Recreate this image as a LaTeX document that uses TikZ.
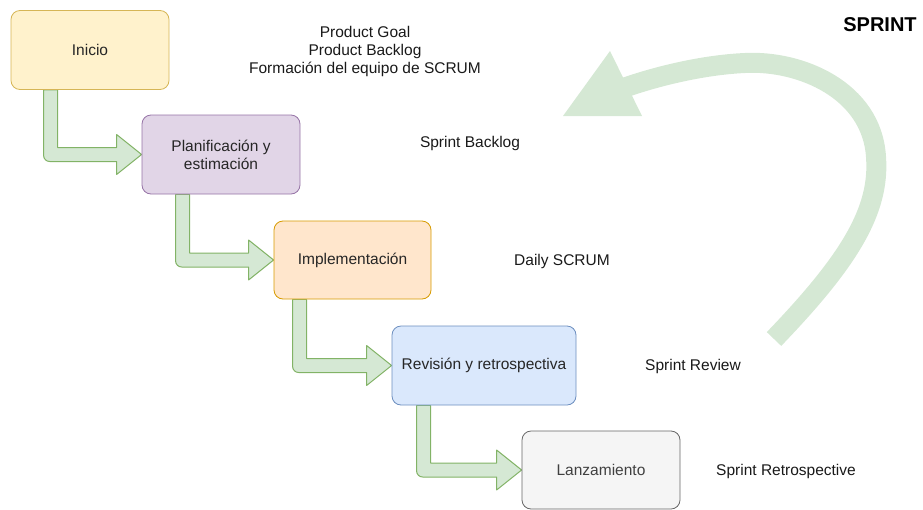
\documentclass[tikz,border=0pt]{standalone}
\usepackage{fontspec}
\setmainfont{Liberation Sans}
\usetikzlibrary{calc,backgrounds}

\definecolor{amarilloF}{HTML}{FFF2CC}\definecolor{amarilloB}{HTML}{D6B656}
\definecolor{moradoF}{HTML}{E1D5E7}\definecolor{moradoB}{HTML}{9673A6}
\definecolor{naranjaF}{HTML}{FFE6CC}\definecolor{naranjaB}{HTML}{D79B00}
\definecolor{azulF}{HTML}{DAE8FC}\definecolor{azulB}{HTML}{6C8EBF}
\definecolor{grisF}{HTML}{F5F5F5}\definecolor{grisB}{HTML}{666666}
\definecolor{verdeF}{HTML}{D5E8D4}\definecolor{verdeB}{HTML}{82B366}

\tikzset{
  caja/.style={draw,rounded corners=9pt,line width=0.8pt,minimum width=158pt,
    minimum height=79pt,align=center,text=black!85,font=\fontsize{15.5}{18}\selectfont},
  nota/.style={align=center,text=black!90,font=\fontsize{15.5}{18}\selectfont},
  flecha/.style={fill=verdeF,draw=verdeB,line width=1pt,line join=round},
}

% flecha en L: #1 caja origen, #2 desplazamiento desde su borde izquierdo, #3 caja destino
\newcommand{\flecha}[3]{%
  \path[flecha] let \p1=($(#1.south west)+(#2,0)$), \p2=(#3.west) in
    (\x1-7pt,\y1) [rounded corners=6pt] -- (\x1-7pt,\y2-7pt) [sharp corners]
    -- (\x2-25pt,\y2-7pt) -- (\x2-25pt,\y2-20pt) -- (\x2,\y2)
    -- (\x2-25pt,\y2+20pt) -- (\x2-25pt,\y2+7pt) -- (\x1+7pt,\y2+7pt)
    -- (\x1+7pt,\y1) -- cycle;}

\begin{document}
\begin{tikzpicture}[x=1pt,y=-1pt]
\useasboundingbox (0,0) rectangle (923,509);

% fases
\node[caja,fill=amarilloF,draw=amarilloB] (inicio) at (90,50) {Inicio};
\node[caja,fill=moradoF,draw=moradoB] (plan) at (221,154.5) {Planificación y\\estimación};
\node[caja,fill=naranjaF,draw=naranjaB,minimum width=157pt,minimum height=78pt] (impl) at (352.5,260) {Implementación};
\node[caja,fill=azulF,draw=azulB,minimum width=184pt] (rev) at (484,365.5) {Revisión y retrospectiva};
\node[caja,fill=grisF,draw=grisB,text=black!75,minimum height=78pt] (lanz) at (601,470) {Lanzamiento};

\begin{scope}[on background layer]
\flecha{inicio}{40}{plan}
\flecha{plan}{41}{impl}
\flecha{impl}{26}{rev}
\flecha{rev}{32}{lanz}
\end{scope}

% eventos de cada fase
\node[nota] (artef) at (365,51) {Product Goal\\Product Backlog\\Formación del equipo de SCRUM};
\node[nota] (backlog) at (470,143) {Sprint Backlog};
\node[nota] (daily) at (562,261) {Daily SCRUM};
\node[nota] (review) at (693,366) {Sprint Review};
\node[nota] (retro) at (786,471) {Sprint Retrospective};

% ciclo del sprint
\node[font=\fontsize{20}{22}\selectfont\bfseries] (sprint) at (880,25) {SPRINT};
\draw[verdeF,line width=20pt] (774,339) .. controls (850,260) and (880,210) .. (876,157)
  .. controls (872,90) and (800,60) .. (745,63)
  .. controls (700,65) and (650,78) .. (618,90);
\fill[verdeF] (610,51) -- (563,116) -- (642,116) -- cycle;
\end{tikzpicture}
\end{document}
